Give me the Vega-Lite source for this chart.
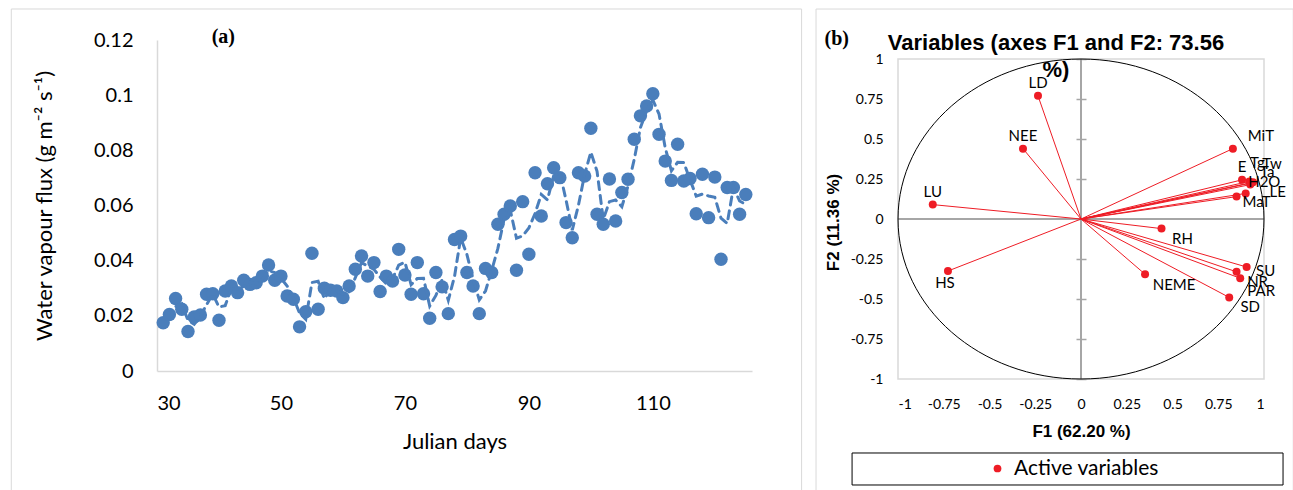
{
  "$schema": "https://vega.github.io/schema/vega-lite/v6.json",
  "background": "white",
  "padding": {"left": 10, "top": 8, "right": 0, "bottom": 0},
  "spacing": 12,
  "config": {
    "view": {"stroke": null},
    "font": "Lato",
    "axis": {"labelColor": "black", "titleColor": "black", "grid": false, "ticks": false}
  },
  "resolve": {"scale": {"color": "independent"}},
  "hconcat": [
    {
      "width": 595,
      "height": 331,
      "data": {"values": [
        {"day": 31, "flux": 0.0175}, {"day": 32, "flux": 0.0205}, {"day": 33, "flux": 0.0263}, {"day": 34, "flux": 0.0224},
        {"day": 35, "flux": 0.0143}, {"day": 36, "flux": 0.0196}, {"day": 37, "flux": 0.0203}, {"day": 38, "flux": 0.0278},
        {"day": 39, "flux": 0.028}, {"day": 40, "flux": 0.0184}, {"day": 41, "flux": 0.029}, {"day": 42, "flux": 0.0308},
        {"day": 43, "flux": 0.0284}, {"day": 44, "flux": 0.0329}, {"day": 45, "flux": 0.0314}, {"day": 46, "flux": 0.032},
        {"day": 47, "flux": 0.0344}, {"day": 48, "flux": 0.0384}, {"day": 49, "flux": 0.0329}, {"day": 50, "flux": 0.0344},
        {"day": 51, "flux": 0.0272}, {"day": 52, "flux": 0.026}, {"day": 53, "flux": 0.016}, {"day": 54, "flux": 0.0215},
        {"day": 55, "flux": 0.0427}, {"day": 56, "flux": 0.0224}, {"day": 57, "flux": 0.03}, {"day": 58, "flux": 0.0293},
        {"day": 59, "flux": 0.029}, {"day": 60, "flux": 0.0266}, {"day": 61, "flux": 0.0308}, {"day": 62, "flux": 0.0369},
        {"day": 63, "flux": 0.0417}, {"day": 64, "flux": 0.0344}, {"day": 65, "flux": 0.0393}, {"day": 66, "flux": 0.0288},
        {"day": 67, "flux": 0.0344}, {"day": 68, "flux": 0.0326}, {"day": 69, "flux": 0.0441}, {"day": 70, "flux": 0.0348},
        {"day": 71, "flux": 0.0278}, {"day": 72, "flux": 0.0393}, {"day": 73, "flux": 0.028}, {"day": 74, "flux": 0.0191},
        {"day": 75, "flux": 0.0357}, {"day": 76, "flux": 0.0305}, {"day": 77, "flux": 0.0208}, {"day": 78, "flux": 0.0477},
        {"day": 79, "flux": 0.0489}, {"day": 80, "flux": 0.0357}, {"day": 81, "flux": 0.0308}, {"day": 82, "flux": 0.0208},
        {"day": 83, "flux": 0.0372}, {"day": 84, "flux": 0.0357}, {"day": 85, "flux": 0.0532}, {"day": 86, "flux": 0.0568},
        {"day": 87, "flux": 0.0598}, {"day": 88, "flux": 0.0365}, {"day": 89, "flux": 0.0614}, {"day": 90, "flux": 0.0423},
        {"day": 91, "flux": 0.0719}, {"day": 92, "flux": 0.0562}, {"day": 93, "flux": 0.0679}, {"day": 94, "flux": 0.0737},
        {"day": 95, "flux": 0.0701}, {"day": 96, "flux": 0.0538}, {"day": 97, "flux": 0.0483}, {"day": 98, "flux": 0.0719},
        {"day": 99, "flux": 0.0707}, {"day": 100, "flux": 0.088}, {"day": 101, "flux": 0.0568}, {"day": 102, "flux": 0.0532},
        {"day": 103, "flux": 0.0696}, {"day": 104, "flux": 0.0544}, {"day": 105, "flux": 0.0647}, {"day": 106, "flux": 0.0695},
        {"day": 107, "flux": 0.084}, {"day": 108, "flux": 0.0925}, {"day": 109, "flux": 0.0961}, {"day": 110, "flux": 0.1005},
        {"day": 111, "flux": 0.0858}, {"day": 112, "flux": 0.0761}, {"day": 113, "flux": 0.0691}, {"day": 114, "flux": 0.0822},
        {"day": 115, "flux": 0.0689}, {"day": 116, "flux": 0.0698}, {"day": 117, "flux": 0.057}, {"day": 118, "flux": 0.0713},
        {"day": 119, "flux": 0.0556}, {"day": 120, "flux": 0.0703}, {"day": 121, "flux": 0.0405}, {"day": 122, "flux": 0.0665},
        {"day": 123, "flux": 0.0665}, {"day": 124, "flux": 0.0568}, {"day": 125, "flux": 0.064}
      ]},
      "layer": [
        {
          "data": {"values": [{}]},
          "mark": {"type": "rect", "filled": false, "color": "#d9d9d9", "strokeWidth": 1},
          "encoding": {
            "x": {"datum": 6.49, "type": "quantitative", "scale": {"domain": [30, 126], "nice": false, "zero": false}},
            "x2": {"datum": 134.0},
            "y": {"datum": 0.13124, "type": "quantitative", "scale": {"domain": [0, 0.12], "nice": false}},
            "y2": {"datum": -0.0453}
          }
        },
        {
          "mark": {"type": "point", "filled": true, "size": 180, "opacity": 1, "color": "#4a7ebb"},
          "encoding": {
            "x": {"field": "day", "type": "quantitative", "scale": {"domain": [30, 126], "nice": false, "zero": false},
                  "axis": {"values": [30, 50, 70, 90, 110], "title": "Julian days", "domainColor": "#d9d9d9", "domainWidth": 1.5,
                           "labelFontSize": 20, "labelPadding": 22, "titleFontSize": 22, "titleFontWeight": "normal", "titlePadding": 18}},
            "y": {"field": "flux", "type": "quantitative", "scale": {"domain": [0, 0.12], "nice": false},
                  "axis": {"values": [0, 0.02, 0.04, 0.06, 0.08, 0.1, 0.12], "labelExpr": "format(datum.value, '.2~f')", "title": "Water vapour flux (g m⁻² s⁻¹)",
                           "domainColor": "#d9d9d9", "domainWidth": 1.5, "labelFontSize": 20, "labelPadding": 24,
                           "titleFontSize": 22, "titleFontWeight": "normal", "titlePadding": 37}}
          }
        },
        {
          "transform": [
            {"window": [{"op": "mean", "field": "flux", "as": "ma"}, {"op": "count", "as": "n"}], "frame": [-1, 0], "sort": [{"field": "day"}]},
            {"filter": "datum.n == 2"}
          ],
          "mark": {"type": "line", "color": "#4a7ebb", "strokeWidth": 3, "strokeDash": [8, 6], "strokeCap": "round"},
          "encoding": {
            "x": {"field": "day", "type": "quantitative", "scale": {"domain": [30, 126], "nice": false, "zero": false}},
            "y": {"field": "ma", "type": "quantitative", "scale": {"domain": [0, 0.12], "nice": false}}
          }
        },
        {
          "data": {"values": [{"label": "(a)"}]},
          "mark": {"type": "text", "font": "Liberation Serif", "fontWeight": "bold", "fontSize": 20, "align": "center", "baseline": "middle"},
          "encoding": {
            "x": {"datum": 40.7, "type": "quantitative", "scale": {"domain": [30, 126], "nice": false, "zero": false}},
            "y": {"datum": 0.121, "type": "quantitative", "scale": {"domain": [0, 0.12], "nice": false}},
            "text": {"field": "label"}
          }
        }
      ]
    },
    {
      "width": 366,
      "height": 339,
      "title": {"text": ["Variables (axes F1 and F2: 73.56", "%)"], "anchor": "middle", "frame": "group", "dx": -25, "offset": -73,
                "font": "Liberation Sans", "fontSize": 22, "fontWeight": "bold", "lineHeight": 27, "color": "black"},
      "data": {"values": [
        {"var": "LD", "F1": -0.235, "F2": 0.77, "series": "Active variables"},
        {"var": "NEE", "F1": -0.317, "F2": 0.44, "series": "Active variables"},
        {"var": "LU", "F1": -0.81, "F2": 0.09, "series": "Active variables"},
        {"var": "HS", "F1": -0.727, "F2": -0.325, "series": "Active variables"},
        {"var": "MiT", "F1": 0.83, "F2": 0.44, "series": "Active variables"},
        {"var": "E", "F1": 0.88, "F2": 0.245, "series": "Active variables"},
        {"var": "Tg", "F1": 0.92, "F2": 0.235, "series": "Active variables"},
        {"var": "Tw", "F1": 0.94, "F2": 0.23, "series": "Active variables"},
        {"var": "Ta", "F1": 0.93, "F2": 0.225, "series": "Active variables"},
        {"var": "H2O", "F1": 0.925, "F2": 0.215, "series": "Active variables"},
        {"var": "LE", "F1": 0.9, "F2": 0.16, "series": "Active variables"},
        {"var": "MaT", "F1": 0.85, "F2": 0.14, "series": "Active variables"},
        {"var": "RH", "F1": 0.44, "F2": -0.06, "series": "Active variables"},
        {"var": "SU", "F1": 0.905, "F2": -0.3, "series": "Active variables"},
        {"var": "NR", "F1": 0.85, "F2": -0.33, "series": "Active variables"},
        {"var": "PAR", "F1": 0.87, "F2": -0.37, "series": "Active variables"},
        {"var": "SD", "F1": 0.81, "F2": -0.49, "series": "Active variables"},
        {"var": "NEME", "F1": 0.35, "F2": -0.345, "series": "Active variables"}
      ]},
      "resolve": {"axis": {"y": "independent"}},
      "layer": [
        {
          "data": {"values": [{}]},
          "mark": {"type": "rect", "filled": false, "color": "#d9d9d9", "strokeWidth": 1},
          "encoding": {
            "x": {"datum": -1.448, "type": "quantitative", "scale": {"domain": [-1, 1], "nice": false, "zero": false}},
            "x2": {"datum": 1.16},
            "y": {"datum": 1.3125, "type": "quantitative", "scale": {"domain": [-1, 1.119], "nice": false, "zero": false}, "axis": null},
            "y2": {"datum": -1.85}
          }
        },
        {
          "data": {"values": [{}]},
          "mark": {"type": "rect", "filled": false, "color": "#d9d9d9", "strokeWidth": 1.5},
          "encoding": {
            "x": {"datum": -1, "type": "quantitative", "scale": {"domain": [-1, 1], "nice": false, "zero": false}},
            "x2": {"datum": 1},
            "y": {"datum": -1, "type": "quantitative", "scale": {"domain": [-1, 1.119], "nice": false, "zero": false}, "axis": null},
            "y2": {"datum": 1}
          }
        },
        {
          "data": {"values": [{}]},
          "mark": {"type": "rule", "color": "#a6a6a6", "strokeWidth": 2},
          "encoding": {
            "x": {"datum": 0, "type": "quantitative", "scale": {"domain": [-1, 1], "nice": false, "zero": false}},
            "y": {"datum": -1, "type": "quantitative", "scale": {"domain": [-1, 1.119], "nice": false, "zero": false},
                  "axis": {"orient": "right", "offset": -188, "domain": false, "labels": false, "ticks": true, "tickSize": 10,
                           "tickColor": "#a6a6a6", "tickWidth": 1.5, "values": [-1, -0.75, -0.5, -0.25, 0, 0.25, 0.5, 0.75, 1], "title": null}},
            "y2": {"datum": 1}
          }
        },
        {
          "data": {"values": [{}]},
          "mark": {"type": "rule", "color": "#a6a6a6", "strokeWidth": 2},
          "encoding": {
            "x": {"datum": -1, "type": "quantitative", "scale": {"domain": [-1, 1], "nice": false, "zero": false}},
            "x2": {"datum": 1},
            "y": {"datum": 0, "type": "quantitative", "scale": {"domain": [-1, 1.119], "nice": false, "zero": false}, "axis": null}
          }
        },
        {
          "data": {"values": [{}]},
          "mark": {"type": "point", "shape": "M -1 0 A 1 0.8743 0 1 1 1 0 A 1 0.8743 0 1 1 -1 0 Z", "size": 133956,
                   "filled": false, "color": "black", "strokeWidth": 1, "opacity": 1},
          "encoding": {
            "x": {"datum": 0, "type": "quantitative", "scale": {"domain": [-1, 1], "nice": false, "zero": false}},
            "y": {"datum": 0, "type": "quantitative", "scale": {"domain": [-1, 1.119], "nice": false, "zero": false}, "axis": null}
          }
        },
        {
          "mark": {"type": "rule", "color": "#ee1c25", "strokeWidth": 1},
          "encoding": {
            "x": {"field": "F1", "type": "quantitative", "scale": {"domain": [-1, 1], "nice": false, "zero": false}},
            "y": {"field": "F2", "type": "quantitative", "scale": {"domain": [-1, 1.119], "nice": false, "zero": false}, "axis": null},
            "x2": {"datum": 0},
            "y2": {"datum": 0}
          }
        },
        {
          "mark": {"type": "point", "filled": true, "size": 64, "opacity": 1},
          "encoding": {
            "x": {"field": "F1", "type": "quantitative", "scale": {"domain": [-1, 1], "nice": false, "zero": false},
                  "axis": {"values": [-1, -0.75, -0.5, -0.25, 0, 0.25, 0.5, 0.75, 1],
                           "labelExpr": "datum.value < 0 ? '-' + format(-datum.value, '.2~f') : format(datum.value, '.2~f')",
                           "title": "F1 (62.20 %)", "domain": false, "labelFontSize": 14, "labelPadding": 18, "titleFont": "Liberation Sans", "titleFontSize": 17,
                           "titleFontWeight": "bold", "titlePadding": 12}},
            "y": {"field": "F2", "type": "quantitative", "scale": {"domain": [-1, 1.119], "nice": false, "zero": false},
                  "axis": {"values": [-1, -0.75, -0.5, -0.25, 0, 0.25, 0.5, 0.75, 1],
                           "labelExpr": "datum.value < 0 ? '-' + format(-datum.value, '.2~f') : format(datum.value, '.2~f')",
                           "title": "F2 (11.36 %)", "domain": false, "labelFontSize": 14, "labelPadding": 15, "titleFont": "Liberation Sans", "titleFontSize": 17,
                           "titleFontWeight": "bold", "titlePadding": 8, "titleY": 182}},
            "color": {"field": "series", "type": "nominal", "scale": {"range": ["#ee1c25"]},
                      "legend": {"orient": "none", "legendX": 89, "legendY": 418, "title": null, "padding": 0,
                                 "labelFontSize": 21, "labelFont": "Lato", "labelColor": "black", "labelOffset": 6, "symbolSize": 60, "symbolType": "circle"}}
          }
        },
        {
          "transform": [{"filter": {"field": "var", "oneOf": ["LD", "NEE", "LU", "E"]}}],
          "mark": {"type": "text", "fontSize": 15, "color": "black", "dy": -13},
          "encoding": {"x": {"field": "F1", "type": "quantitative", "scale": {"domain": [-1, 1], "nice": false, "zero": false}},
                       "y": {"field": "F2", "type": "quantitative", "scale": {"domain": [-1, 1.119], "nice": false, "zero": false}, "axis": null},
                       "text": {"field": "var"}}
        },
        {
          "transform": [{"filter": {"field": "var", "oneOf": ["HS"]}}],
          "mark": {"type": "text", "fontSize": 15, "color": "black", "dx": -3, "dy": 12},
          "encoding": {"x": {"field": "F1", "type": "quantitative", "scale": {"domain": [-1, 1], "nice": false, "zero": false}},
                       "y": {"field": "F2", "type": "quantitative", "scale": {"domain": [-1, 1.119], "nice": false, "zero": false}, "axis": null},
                       "text": {"field": "var"}}
        },
        {
          "transform": [{"filter": {"field": "var", "oneOf": ["MiT"]}}],
          "mark": {"type": "text", "fontSize": 15, "color": "black", "dx": 28, "dy": -13},
          "encoding": {"x": {"field": "F1", "type": "quantitative", "scale": {"domain": [-1, 1], "nice": false, "zero": false}},
                       "y": {"field": "F2", "type": "quantitative", "scale": {"domain": [-1, 1.119], "nice": false, "zero": false}, "axis": null},
                       "text": {"field": "var"}}
        },
        {
          "transform": [{"filter": {"field": "var", "oneOf": ["Tg"]}}],
          "mark": {"type": "text", "fontSize": 15, "color": "black", "dx": 8, "dy": -18},
          "encoding": {"x": {"field": "F1", "type": "quantitative", "scale": {"domain": [-1, 1], "nice": false, "zero": false}},
                       "y": {"field": "F2", "type": "quantitative", "scale": {"domain": [-1, 1.119], "nice": false, "zero": false}, "axis": null},
                       "text": {"field": "var"}}
        },
        {
          "transform": [{"filter": {"field": "var", "oneOf": ["Tw"]}}],
          "mark": {"type": "text", "fontSize": 15, "color": "black", "dx": 19, "dy": -18},
          "encoding": {"x": {"field": "F1", "type": "quantitative", "scale": {"domain": [-1, 1], "nice": false, "zero": false}},
                       "y": {"field": "F2", "type": "quantitative", "scale": {"domain": [-1, 1.119], "nice": false, "zero": false}, "axis": null},
                       "text": {"field": "var"}}
        },
        {
          "transform": [{"filter": {"field": "var", "oneOf": ["Ta"]}}],
          "mark": {"type": "text", "fontSize": 15, "color": "black", "dx": 16, "dy": -11},
          "encoding": {"x": {"field": "F1", "type": "quantitative", "scale": {"domain": [-1, 1], "nice": false, "zero": false}},
                       "y": {"field": "F2", "type": "quantitative", "scale": {"domain": [-1, 1.119], "nice": false, "zero": false}, "axis": null},
                       "text": {"field": "var"}}
        },
        {
          "transform": [{"filter": {"field": "var", "oneOf": ["H2O"]}}],
          "mark": {"type": "text", "fontSize": 15, "color": "black", "dx": 14, "dy": -3},
          "encoding": {"x": {"field": "F1", "type": "quantitative", "scale": {"domain": [-1, 1], "nice": false, "zero": false}},
                       "y": {"field": "F2", "type": "quantitative", "scale": {"domain": [-1, 1.119], "nice": false, "zero": false}, "axis": null},
                       "text": {"field": "var"}}
        },
        {
          "transform": [{"filter": {"field": "var", "oneOf": ["LE"]}}],
          "mark": {"type": "text", "fontSize": 15, "color": "black", "dx": 32, "dy": -1},
          "encoding": {"x": {"field": "F1", "type": "quantitative", "scale": {"domain": [-1, 1], "nice": false, "zero": false}},
                       "y": {"field": "F2", "type": "quantitative", "scale": {"domain": [-1, 1.119], "nice": false, "zero": false}, "axis": null},
                       "text": {"field": "var"}}
        },
        {
          "transform": [{"filter": {"field": "var", "oneOf": ["MaT"]}}],
          "mark": {"type": "text", "fontSize": 15, "color": "black", "dx": 20, "dy": 5},
          "encoding": {"x": {"field": "F1", "type": "quantitative", "scale": {"domain": [-1, 1], "nice": false, "zero": false}},
                       "y": {"field": "F2", "type": "quantitative", "scale": {"domain": [-1, 1.119], "nice": false, "zero": false}, "axis": null},
                       "text": {"field": "var"}}
        },
        {
          "transform": [{"filter": {"field": "var", "oneOf": ["SU"]}}],
          "mark": {"type": "text", "fontSize": 15, "color": "black", "dx": 19, "dy": 4},
          "encoding": {"x": {"field": "F1", "type": "quantitative", "scale": {"domain": [-1, 1], "nice": false, "zero": false}},
                       "y": {"field": "F2", "type": "quantitative", "scale": {"domain": [-1, 1.119], "nice": false, "zero": false}, "axis": null},
                       "text": {"field": "var"}}
        },
        {
          "transform": [{"filter": {"field": "var", "oneOf": ["NR", "SD", "RH"]}}],
          "mark": {"type": "text", "fontSize": 15, "color": "black", "dx": 21, "dy": 10},
          "encoding": {"x": {"field": "F1", "type": "quantitative", "scale": {"domain": [-1, 1], "nice": false, "zero": false}},
                       "y": {"field": "F2", "type": "quantitative", "scale": {"domain": [-1, 1.119], "nice": false, "zero": false}, "axis": null},
                       "text": {"field": "var"}}
        },
        {
          "transform": [{"filter": {"field": "var", "oneOf": ["NEME"]}}],
          "mark": {"type": "text", "fontSize": 15, "color": "black", "dx": 29, "dy": 11},
          "encoding": {"x": {"field": "F1", "type": "quantitative", "scale": {"domain": [-1, 1], "nice": false, "zero": false}},
                       "y": {"field": "F2", "type": "quantitative", "scale": {"domain": [-1, 1.119], "nice": false, "zero": false}, "axis": null},
                       "text": {"field": "var"}}
        },
        {
          "transform": [{"filter": {"field": "var", "oneOf": ["PAR"]}}],
          "mark": {"type": "text", "fontSize": 15, "color": "black", "dx": 21, "dy": 13},
          "encoding": {"x": {"field": "F1", "type": "quantitative", "scale": {"domain": [-1, 1], "nice": false, "zero": false}},
                       "y": {"field": "F2", "type": "quantitative", "scale": {"domain": [-1, 1.119], "nice": false, "zero": false}, "axis": null},
                       "text": {"field": "var"}}
        },
        {
          "data": {"values": [{}]},
          "mark": {"type": "rect", "filled": false, "color": "black", "strokeWidth": 1},
          "encoding": {
            "x": {"datum": -1.251, "type": "quantitative", "scale": {"domain": [-1, 1], "nice": false, "zero": false}},
            "x2": {"datum": 1.104},
            "y": {"datum": -1.4625, "type": "quantitative", "scale": {"domain": [-1, 1.119], "nice": false, "zero": false}, "axis": null},
            "y2": {"datum": -1.6625}
          }
        },
        {
          "data": {"values": [{"label": "(b)"}]},
          "mark": {"type": "text", "font": "Liberation Serif", "fontWeight": "bold", "fontSize": 20, "align": "center", "baseline": "middle"},
          "encoding": {
            "x": {"datum": -1.335, "type": "quantitative", "scale": {"domain": [-1, 1], "nice": false, "zero": false}},
            "y": {"datum": 1.125, "type": "quantitative", "scale": {"domain": [-1, 1.119], "nice": false, "zero": false}, "axis": null},
            "text": {"field": "label"}
          }
        }
      ]
    }
  ]
}
